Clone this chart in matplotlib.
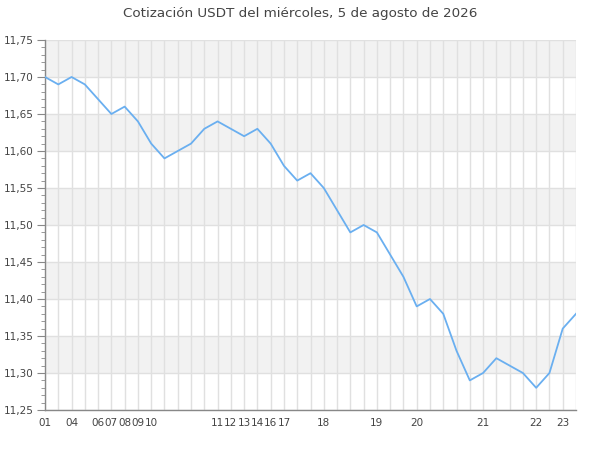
import numpy as np
import matplotlib
matplotlib.use('Agg')
import matplotlib.pyplot as plt
from matplotlib.ticker import MultipleLocator, FuncFormatter

title = 'Cotización USDT del miércoles, 5 de agosto de 2026'

# one entry per sample; hour label only where the hour changes
hour_labels = ['01', '', '04', '', '06', '07', '08', '09', '10', '', '', '', '', '11',
               '12', '13', '14', '16', '17', '', '', '18', '', '', '', '19', '', '',
               '20', '', '', '', '', '21', '', '', '', '22', '', '23', '']
price = [11.70, 11.69, 11.70, 11.69, 11.67, 11.65, 11.66, 11.64, 11.61, 11.59,
         11.60, 11.61, 11.63, 11.64, 11.63, 11.62, 11.63, 11.61, 11.58, 11.56,
         11.57, 11.55, 11.52, 11.49, 11.50, 11.49, 11.46, 11.43, 11.39, 11.40,
         11.38, 11.33, 11.29, 11.30, 11.32, 11.31, 11.30, 11.28, 11.30, 11.36,
         11.38]

text_col = '#444444'
fig = plt.figure(figsize=(6, 4.5), dpi=100)
ax = fig.add_axes([0.075, 0.0889, 0.885, 0.8222])

x = np.arange(len(price))
ymin, ymax = 11.25, 11.75

# alternating horizontal bands
for i, lo in enumerate(np.arange(ymin, ymax - 1e-9, 0.05)):
    if i % 2 == 1:
        ax.axhspan(lo, lo + 0.05, color='#f2f2f2', zorder=0, lw=0)

for xi in x:
    ax.axvline(xi, color='#e0e0e0', lw=1, zorder=1)
for yv in np.arange(ymin, ymax + 1e-9, 0.05):
    ax.axhline(yv, color='#e0e0e0', lw=1, zorder=1)

ax.plot(x, price, color='#6aaff0', lw=1.3, zorder=3)

ax.set_xlim(0, len(price) - 1)
ax.set_ylim(ymin, ymax)
ax.set_xticks(x)
ax.set_xticklabels(hour_labels)
ax.tick_params(axis='x', length=0, pad=6, labelsize=7.5, labelcolor=text_col)

ax.yaxis.set_major_locator(MultipleLocator(0.05))
ax.yaxis.set_minor_locator(MultipleLocator(0.01))
ax.yaxis.set_major_formatter(FuncFormatter(lambda v, p: f'{v:.2f}'.replace('.', ',')))
ax.tick_params(axis='y', which='major', length=6, color='#888888', labelsize=7.5,
               labelcolor=text_col, pad=2)
ax.tick_params(axis='y', which='minor', length=3, color='#888888')

for s in ['top', 'right']:
    ax.spines[s].set_visible(False)
for s in ['left', 'bottom']:
    ax.spines[s].set_color('#888888')
    ax.spines[s].set_linewidth(1)

fig.suptitle(title, x=0.5, y=0.985, fontsize=9.7, color=text_col)

fig.savefig('out.png', dpi=100)
